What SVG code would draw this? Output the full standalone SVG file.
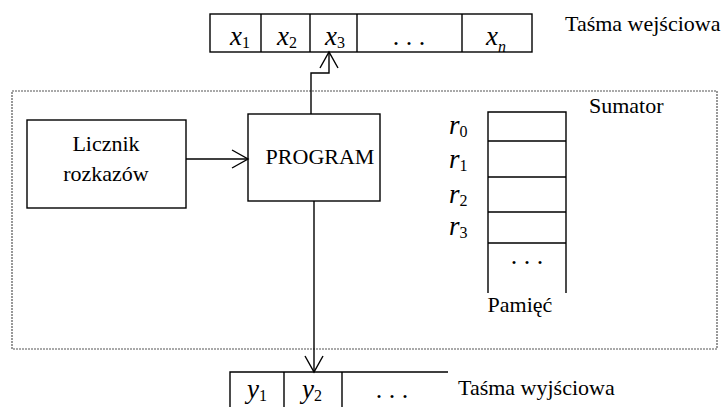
<svg xmlns="http://www.w3.org/2000/svg" width="723" height="407" viewBox="0 0 723 407" font-family="'Liberation Serif', 'DejaVu Serif', serif">
  <defs>
    <marker id="open" viewBox="0 0 20 20" refX="18" refY="10" markerWidth="20" markerHeight="20" markerUnits="userSpaceOnUse" orient="auto">
      <path d="M2 1 L18 10 L2 19" fill="none" stroke="#000" stroke-width="1.4"/>
    </marker>
  </defs>
  <style>
    .box { fill: #fff; stroke: #000; stroke-width: 1.4; }
    .ln { fill: none; stroke: #000; stroke-width: 1.4; }
    .dash { fill: none; stroke: #555; stroke-width: 1.2; stroke-dasharray: 2 1; }
    text { font-family: 'Liberation Serif', 'DejaVu Serif', serif; fill: #000; }
    .t { font-size: 22px; }
    .v { font-size: 27px; font-style: italic; }
    .s { font-size: 16px; font-style: normal; }
    .si { font-size: 16px; font-style: italic; }
    .dots { font-size: 26px; }
  </style>

  <!-- processor boundary -->
  <g id="sumator">
    <rect class="dash" x="12" y="91" width="705" height="258"/>
    <text class="t" x="589" y="113">Sumator</text>
  </g>

  <!-- input tape -->
  <g id="input-tape">
    <rect class="box" x="210" y="14" width="322" height="38"/>
    <path class="ln" d="M261 14 V52 M310 14 V52 M357 14 V52 M462 14 V52"/>
    <text class="v" x="230" y="45">x<tspan class="s" dy="3">1</tspan></text>
    <text class="v" x="277" y="45">x<tspan class="s" dy="3">2</tspan></text>
    <text class="v" x="325" y="45">x<tspan class="s" dy="3">3</tspan></text>
    <text class="dots" x="409" y="45" text-anchor="middle">. . .</text>
    <text class="v" x="486" y="45">x<tspan class="si" dy="7">n</tspan></text>
    <text class="t" x="565" y="31">Taśma wejściowa</text>
  </g>

  <!-- instruction counter -->
  <g id="licznik">
    <rect class="box" x="27" y="120" width="159" height="88"/>
    <text class="t" x="106" y="151" text-anchor="middle">Licznik</text>
    <text class="t" x="106" y="181" text-anchor="middle">rozkazów</text>
  </g>

  <!-- program block -->
  <g id="program">
    <rect class="box" x="248" y="114" width="132" height="87"/>
    <text class="t" x="320" y="164" text-anchor="middle">PROGRAM</text>
  </g>

  <!-- memory registers -->
  <g id="pamiec">
    <path class="ln" d="M488 293 V112 H566 V293 M488 141 H566 M488 177 H566 M488 212 H566 M488 243 H566"/>
    <text class="v" x="449" y="134">r<tspan class="s" dy="3">0</tspan></text>
    <text class="v" x="449" y="168">r<tspan class="s" dy="3">1</tspan></text>
    <text class="v" x="449" y="203">r<tspan class="s" dy="3">2</tspan></text>
    <text class="v" x="449" y="235">r<tspan class="s" dy="3">3</tspan></text>
    <text class="dots" x="527" y="264" text-anchor="middle">. . .</text>
    <text class="t" x="520" y="312" text-anchor="middle">Pamięć</text>
  </g>

  <!-- output tape -->
  <g id="output-tape">
    <path class="ln" d="M230 407 V372 H448 M284 372 V407 M342 372 V407"/>
    <text class="v" x="247" y="398">y<tspan class="s" dy="3">1</tspan></text>
    <text class="v" x="302" y="398">y<tspan class="s" dy="3">2</tspan></text>
    <text class="dots" x="392" y="398" text-anchor="middle">. . .</text>
    <text class="t" x="458" y="395">Taśma wyjściowa</text>
  </g>

  <!-- connectors -->
  <g id="connectors">
    <path class="ln" d="M186 159 H248" marker-end="url(#open)"/>
    <path class="ln" d="M311 114 V73 H329 V52" marker-end="url(#open)"/>
    <path class="ln" d="M314 201 V372" marker-end="url(#open)"/>
  </g>
</svg>
